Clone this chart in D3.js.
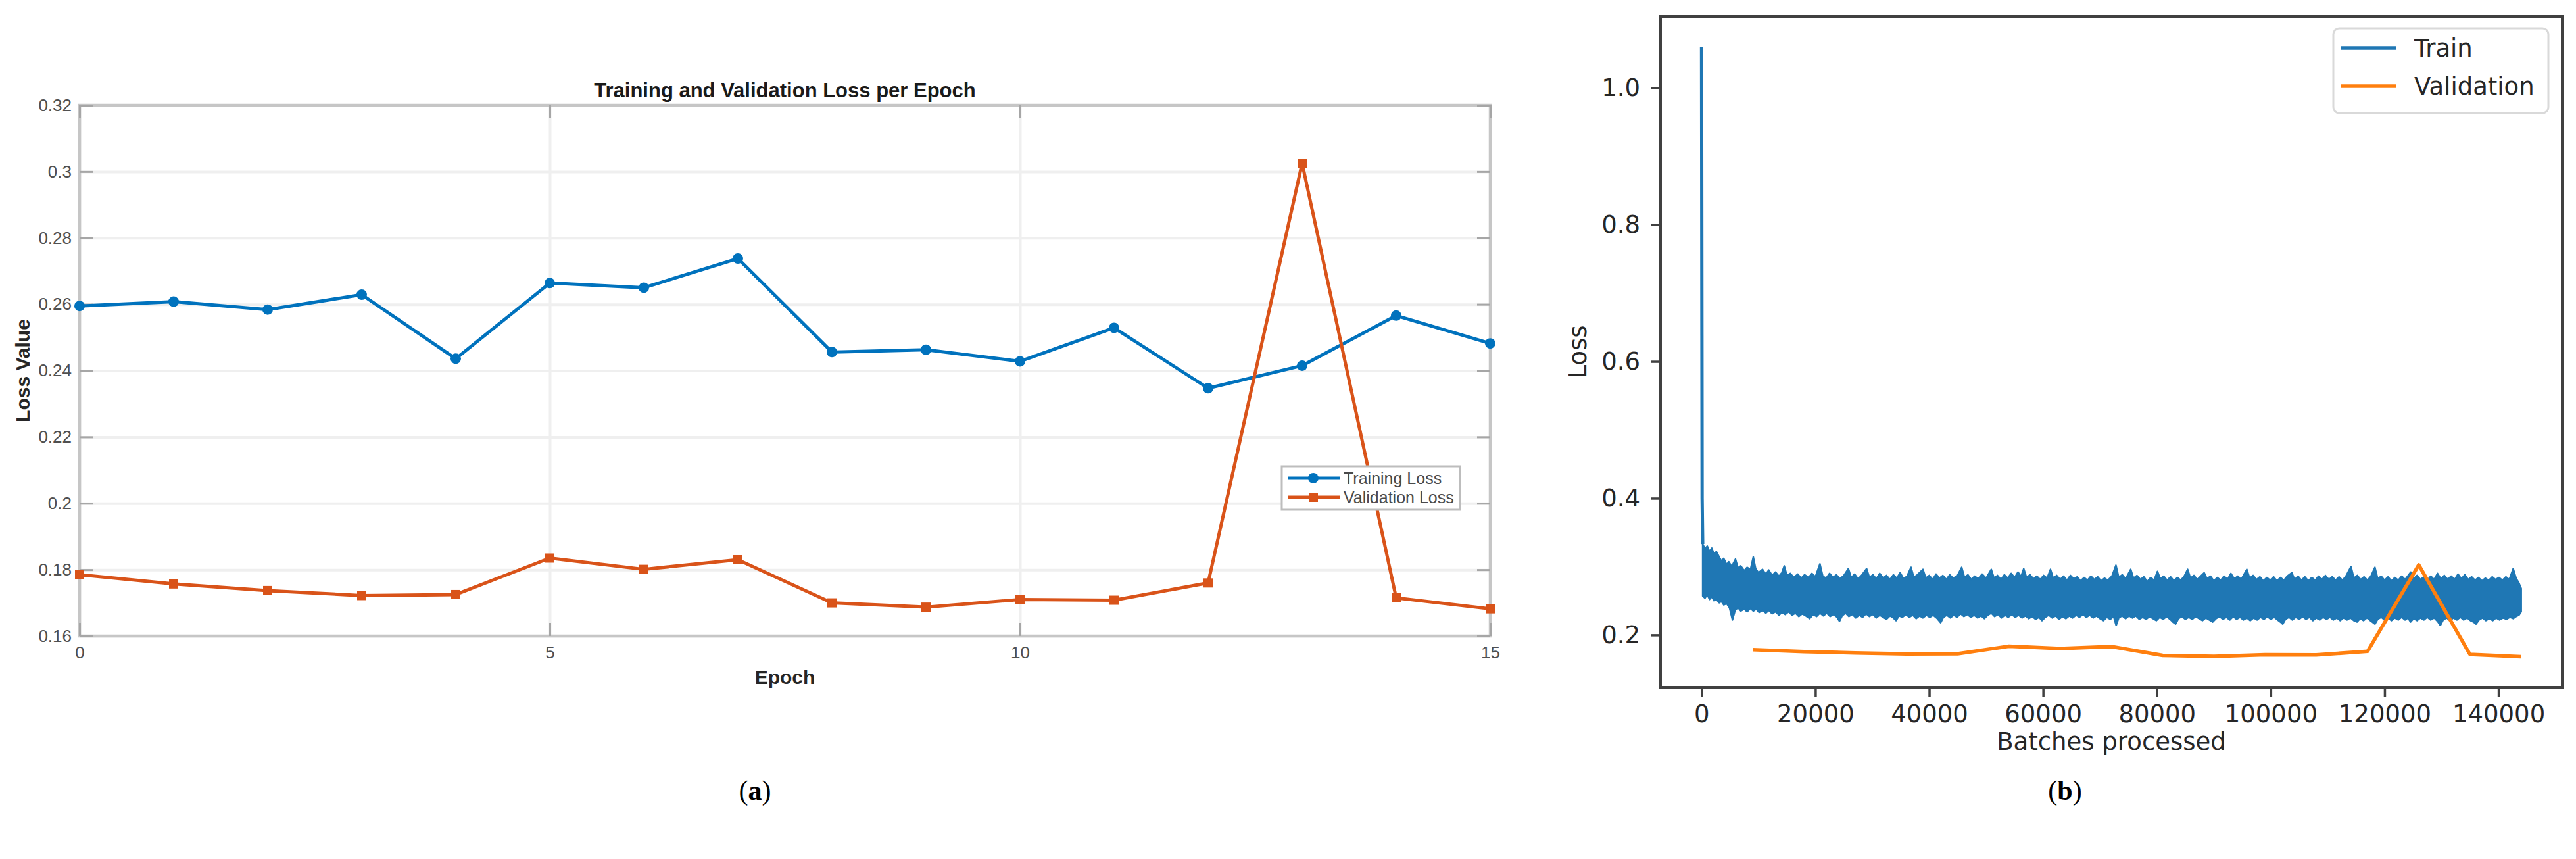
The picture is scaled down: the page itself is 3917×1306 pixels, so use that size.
<!DOCTYPE html>
<html><head><meta charset="utf-8">
<script src="https://cdn.jsdelivr.net/npm/d3@7"></script>
<style>html,body{margin:0;padding:0;background:#fff;} svg{display:block}</style>
</head><body>
<svg id="chart" width="3917" height="1306"></svg>
<script>
// ---------- Panel (a) data ----------
const epochs = [0,1,2,3,4,5,6,7,8,9,10,11,12,13,14,15];
const trainLossA = [0.2595,0.2608,0.2584,0.2629,0.2436,0.2664,0.2650,0.2738,0.2456,0.2463,0.2428,0.2529,0.2347,0.2415,0.2566,0.2482];
const valLossA   = [0.1785,0.1757,0.1737,0.1722,0.1725,0.1835,0.1801,0.1830,0.1700,0.1687,0.1710,0.1708,0.1760,0.3025,0.1715,0.1682];
const xTicksA = [0,5,10,15];
const xTickLabelsA = ["0","5","10","15"];
const yTicksA = [0.16,0.18,0.20,0.22,0.24,0.26,0.28,0.30,0.32];
const yTickLabelsA = ["0.16","0.18","0.2","0.22","0.24","0.26","0.28","0.3","0.32"];
const seriesNamesA = ["Training Loss","Validation Loss"];

// ---------- Panel (b) data ----------
const valBatches = [9000,18000,27000,36000,45000,54000,63000,72000,81000,90000,99000,108000,117000,126000,135000,144000];
const valLossB = [0.1785,0.1757,0.1737,0.1722,0.1725,0.1835,0.1801,0.1830,0.1700,0.1687,0.1710,0.1708,0.1760,0.3025,0.1715,0.1682];
const trainStartBatches = [0,100,200];
const trainStartLoss = [1.06,0.40,0.333];
// upper envelope of the noisy train-loss band
const trainHiBatches = [200,600,1000,1400,1800,2200,2600,3100,3500,3900,4400,4800,5300,5960,6400,6900,7500,8000,8600,9090,9500,10000,10700,11300,11800,12400,13000,13600,14100,14530,15000,15600,16200,16900,17500,18100,18800,19400,20000,20800,21300,21900,22500,23100,23700,24300,25000,25800,26300,26900,27500,28100,29000,29500,30100,30700,31300,31900,32500,33100,33700,34300,34900,35500,36100,36800,37300,37900,38900,39400,40000,40600,41200,41800,42400,43000,43600,44200,44900,45700,46200,46800,47400,48000,48600,49300,50000,50900,51400,52000,52600,53200,53800,54400,55000,55600,56100,56600,57100,57700,58300,58900,59500,60100,60700,61300,61800,62400,63000,63600,64200,64800,65400,66000,66600,67200,67800,68400,69000,69600,70200,70800,71400,72100,72800,73300,73900,74500,75400,75900,76500,77100,77700,78300,78900,79500,80100,80600,81200,81800,82400,83000,83600,84200,84800,85400,85900,86500,87100,87700,88300,88800,89400,90000,90600,91200,91800,92400,93000,93600,94200,94800,95800,96300,96900,97500,98100,98700,99300,99900,100500,101100,101700,102300,102900,103700,104200,104800,105400,106000,106600,107200,107800,108400,109000,109600,110200,110800,111400,112000,112600,113200,114100,114600,115200,115800,116400,117000,117600,118300,118800,119400,120000,120600,121200,121800,122400,123000,123600,124600,125100,125700,126300,126900,127500,128100,128700,129300,129900,130500,131100,131700,132300,132900,133500,134100,134700,135300,135900,136500,137100,137700,138300,138900,139500,140100,140700,141300,141900,142600,143100,143600,144000];
const trainHiLoss = [0.333,0.326,0.330,0.322,0.327,0.318,0.322,0.314,0.308,0.312,0.303,0.307,0.300,0.311,0.298,0.301,0.294,0.299,0.296,0.314,0.297,0.291,0.296,0.289,0.295,0.287,0.292,0.286,0.291,0.301,0.287,0.290,0.284,0.289,0.283,0.288,0.284,0.290,0.285,0.304,0.286,0.283,0.290,0.284,0.288,0.282,0.287,0.297,0.284,0.289,0.282,0.287,0.297,0.284,0.288,0.282,0.290,0.283,0.287,0.281,0.288,0.283,0.291,0.282,0.286,0.299,0.284,0.288,0.296,0.283,0.287,0.281,0.289,0.283,0.287,0.281,0.288,0.283,0.286,0.299,0.284,0.288,0.281,0.286,0.282,0.289,0.283,0.296,0.283,0.287,0.281,0.288,0.283,0.290,0.284,0.292,0.285,0.297,0.284,0.288,0.282,0.286,0.281,0.287,0.283,0.296,0.283,0.287,0.281,0.286,0.280,0.287,0.282,0.285,0.279,0.284,0.280,0.286,0.281,0.285,0.279,0.283,0.280,0.286,0.302,0.284,0.288,0.282,0.296,0.283,0.287,0.281,0.285,0.278,0.284,0.280,0.293,0.282,0.286,0.280,0.285,0.279,0.284,0.280,0.286,0.296,0.283,0.287,0.281,0.286,0.291,0.282,0.286,0.279,0.284,0.280,0.286,0.281,0.290,0.282,0.286,0.281,0.296,0.283,0.287,0.281,0.285,0.279,0.284,0.280,0.285,0.279,0.284,0.280,0.286,0.291,0.281,0.286,0.280,0.285,0.279,0.284,0.280,0.286,0.281,0.287,0.281,0.285,0.280,0.285,0.280,0.286,0.300,0.283,0.287,0.281,0.285,0.280,0.286,0.299,0.282,0.286,0.280,0.285,0.279,0.284,0.280,0.286,0.281,0.292,0.282,0.287,0.281,0.285,0.280,0.286,0.281,0.290,0.282,0.287,0.281,0.286,0.281,0.289,0.282,0.288,0.281,0.285,0.280,0.284,0.279,0.283,0.280,0.285,0.281,0.284,0.280,0.285,0.281,0.297,0.283,0.276,0.268];
// lower envelope of the noisy train-loss band
const trainLoBatches = [200,600,1000,1400,1800,2200,2600,3100,3500,3900,4400,4900,5430,5900,6400,6900,7500,8000,8600,9100,9600,10100,10700,11300,11800,12400,13000,13600,14100,14700,15300,15900,16500,17100,17700,18300,19000,19600,20200,20800,21400,22000,22600,23200,23800,24240,24700,25300,25900,26500,27100,27700,28300,28900,29500,30100,30700,31300,31900,32500,33100,33700,34170,34700,35300,35900,36500,37100,37700,38300,38900,39500,40100,40700,41400,42010,42500,43100,43700,44300,44900,45500,46100,46700,47300,47900,48500,49100,49700,50300,50900,51500,52100,52700,53300,53900,54500,55100,55700,56300,56900,57500,58100,58700,59300,59800,60400,61000,61600,62200,62800,63400,64000,64600,65200,65800,66400,67000,67600,68200,68800,69400,70000,70600,71200,71800,72400,72840,73300,73900,74500,75100,75700,76300,76900,77500,78100,78700,79300,79900,80500,81100,81700,82300,82800,83290,83800,84400,85000,85600,86200,86800,87400,88000,88600,89200,89800,90400,91000,91600,92200,92800,93400,94000,94600,95200,95800,96400,97000,97600,98200,98800,99400,100000,100600,101200,101700,102100,102600,103200,103800,104400,105000,105600,106200,106800,107400,108000,108600,109200,109800,110400,111000,111600,112200,112800,113400,114000,114600,115160,115700,116300,116900,117500,118300,118800,119400,120000,120600,121200,121800,122400,123000,123600,124100,124560,125100,125700,126300,126900,127500,128100,128700,129300,129790,130300,130900,131500,132100,132700,133300,133900,134500,135100,135600,136060,136600,137200,137800,138400,139000,139600,140200,140800,141400,142000,142600,143100,143600,144000];
const trainLoLoss = [0.257,0.254,0.259,0.252,0.256,0.250,0.252,0.247,0.249,0.244,0.246,0.240,0.222,0.236,0.240,0.235,0.238,0.234,0.239,0.235,0.238,0.233,0.236,0.232,0.236,0.231,0.234,0.229,0.233,0.230,0.234,0.229,0.232,0.227,0.231,0.228,0.224,0.230,0.227,0.232,0.228,0.232,0.227,0.230,0.226,0.220,0.228,0.232,0.227,0.230,0.225,0.229,0.226,0.231,0.227,0.230,0.225,0.229,0.226,0.223,0.228,0.225,0.221,0.228,0.226,0.230,0.226,0.229,0.224,0.228,0.225,0.229,0.226,0.229,0.224,0.218,0.226,0.229,0.225,0.229,0.226,0.231,0.227,0.230,0.226,0.229,0.225,0.228,0.224,0.229,0.232,0.227,0.230,0.225,0.229,0.226,0.230,0.226,0.229,0.225,0.228,0.224,0.227,0.223,0.226,0.221,0.226,0.229,0.225,0.228,0.223,0.227,0.224,0.228,0.225,0.229,0.226,0.230,0.226,0.229,0.225,0.228,0.224,0.221,0.226,0.223,0.227,0.214,0.225,0.228,0.224,0.228,0.225,0.228,0.223,0.226,0.223,0.227,0.224,0.221,0.226,0.223,0.227,0.223,0.219,0.216,0.224,0.227,0.223,0.226,0.223,0.227,0.224,0.221,0.225,0.222,0.219,0.224,0.227,0.223,0.226,0.222,0.227,0.223,0.226,0.222,0.225,0.221,0.225,0.222,0.226,0.223,0.227,0.223,0.226,0.222,0.219,0.216,0.223,0.226,0.222,0.226,0.223,0.227,0.223,0.226,0.221,0.225,0.222,0.226,0.223,0.226,0.222,0.225,0.221,0.225,0.222,0.225,0.221,0.219,0.224,0.221,0.225,0.221,0.216,0.223,0.226,0.222,0.225,0.221,0.225,0.222,0.226,0.222,0.225,0.219,0.224,0.221,0.225,0.222,0.226,0.222,0.225,0.220,0.214,0.222,0.225,0.221,0.225,0.222,0.226,0.222,0.225,0.221,0.219,0.216,0.222,0.225,0.221,0.224,0.221,0.225,0.222,0.225,0.223,0.226,0.224,0.227,0.229,0.234];
const xTicksB = [0,20000,40000,60000,80000,100000,120000,140000];
const yTicksB = [0.2,0.4,0.6,0.8,1.0];
const seriesNamesB = ["Train","Validation"];

const svg = d3.select('#chart');
svg.append('rect').attr('width',3917).attr('height',1306).attr('fill','#fff');

// ================= Panel (a) =================
const A = {l:121, r:2266, t:160, b:967};
const xA = d3.scaleLinear().domain([0,15]).range([A.l,A.r]);
const yA = d3.scaleLinear().domain([0.16,0.32]).range([A.b,A.t]);
const blueA = '#0072BD', orangeA = '#D95319';
const fontA = 'Liberation Sans, Arial, Helvetica, sans-serif';
const gA = svg.append('g');

// grid
gA.append('g').attr('transform',`translate(0,${A.b})`)
  .call(d3.axisBottom(xA).tickValues(xTicksA).tickSize(-(A.b-A.t)).tickFormat(''))
  .call(g=>{g.select('.domain').remove(); g.selectAll('line').attr('stroke','#efefef').attr('stroke-width',4);});
gA.append('g').attr('transform',`translate(${A.l},0)`)
  .call(d3.axisLeft(yA).tickValues(yTicksA).tickSize(-(A.r-A.l)).tickFormat(''))
  .call(g=>{g.select('.domain').remove(); g.selectAll('line').attr('stroke','#efefef').attr('stroke-width',4);});

// box
gA.append('rect').attr('x',A.l).attr('y',A.t).attr('width',A.r-A.l).attr('height',A.b-A.t)
  .attr('fill','none').attr('stroke','#c6c6c6').attr('stroke-width',4.5);

function styleTicksA(g){
  g.select('.domain').remove();
  g.selectAll('line').attr('stroke','#a6a6a6').attr('stroke-width',3);
  g.selectAll('text').attr('fill','#505050').attr('font-family',fontA).attr('font-size',26);
}
gA.append('g').attr('transform',`translate(${A.l},0)`)
  .call(d3.axisLeft(yA).tickValues(yTicksA).tickSize(-20).tickPadding(12).tickFormat((d,i)=>yTickLabelsA[i]))
  .call(styleTicksA);
gA.append('g').attr('transform',`translate(${A.r},0)`)
  .call(d3.axisRight(yA).tickValues(yTicksA).tickSize(-20).tickFormat(''))
  .call(styleTicksA);
gA.append('g').attr('transform',`translate(0,${A.b})`)
  .call(d3.axisBottom(xA).tickValues(xTicksA).tickSize(-20).tickPadding(16).tickFormat((d,i)=>xTickLabelsA[i]))
  .call(styleTicksA);
gA.append('g').attr('transform',`translate(0,${A.t})`)
  .call(d3.axisTop(xA).tickValues(xTicksA).tickSize(-20).tickFormat(''))
  .call(styleTicksA);

// lines
const lineA = d3.line().x(d=>xA(d[0])).y(d=>yA(d[1]));
const trainPtsA = epochs.map((e,i)=>[e,trainLossA[i]]);
const valPtsA = epochs.map((e,i)=>[e,valLossA[i]]);
gA.append('path').attr('d',lineA(trainPtsA)).attr('fill','none').attr('stroke',blueA).attr('stroke-width',5).attr('stroke-linejoin','round');
gA.append('path').attr('d',lineA(valPtsA)).attr('fill','none').attr('stroke',orangeA).attr('stroke-width',5).attr('stroke-linejoin','round');
gA.selectAll('circle.tm').data(trainPtsA).enter().append('circle')
  .attr('cx',d=>xA(d[0])).attr('cy',d=>yA(d[1])).attr('r',8).attr('fill',blueA);
gA.selectAll('rect.vm').data(valPtsA).enter().append('rect')
  .attr('x',d=>xA(d[0])-7).attr('y',d=>yA(d[1])-7).attr('width',14).attr('height',14).attr('fill',orangeA);

// title & labels
gA.append('text').attr('x',(A.l+A.r)/2).attr('y',148).attr('text-anchor','middle')
  .attr('font-family',fontA).attr('font-weight','bold').attr('font-size',31).attr('fill','#1a1a1a')
  .text('Training and Validation Loss per Epoch');
gA.append('text').attr('x',(A.l+A.r)/2).attr('y',1040).attr('text-anchor','middle')
  .attr('font-family',fontA).attr('font-weight','bold').attr('font-size',30).attr('fill','#262626')
  .text('Epoch');
gA.append('text').attr('transform',`translate(45,${(A.t+A.b)/2}) rotate(-90)`).attr('text-anchor','middle')
  .attr('font-family',fontA).attr('font-weight','bold').attr('font-size',30).attr('fill','#262626')
  .text('Loss Value');

// legend (a)
const legA = gA.append('g');
legA.append('rect').attr('x',1949).attr('y',709).attr('width',271).attr('height',66)
  .attr('fill','#fff').attr('stroke','#bdbdbd').attr('stroke-width',3);
[[727,blueA,'c'],[756,orangeA,'s']].forEach((L,i)=>{
  legA.append('line').attr('x1',1958).attr('x2',2037).attr('y1',L[0]).attr('y2',L[0]).attr('stroke',L[1]).attr('stroke-width',5);
  if(L[2]==='c') legA.append('circle').attr('cx',1997).attr('cy',L[0]).attr('r',8).attr('fill',L[1]);
  else legA.append('rect').attr('x',1990).attr('y',L[0]-7).attr('width',14).attr('height',14).attr('fill',L[1]);
  legA.append('text').attr('x',2043).attr('y',L[0]).attr('dominant-baseline','central')
    .attr('font-family',fontA).attr('font-size',25).attr('fill','#4a4a4a').text(seriesNamesA[i]);
});

// ================= Panel (b) =================
const B = {l:2525, r:3896, t:25, b:1045};
const xB = d3.scaleLinear().domain([-7200,151200]).range([B.l,B.r]);
const yB = d3.scaleLinear().domain([0.1234,1.1046]).range([B.b,B.t]);
const blueB = '#1f77b4', orangeB = '#ff7f0e';
const fontB = 'DejaVu Sans, Verdana, sans-serif';
const gB = svg.append('g');
const lineB = d3.line().x(d=>xB(d[0])).y(d=>yB(d[1]));

// train band: upper envelope left->right, lower envelope right->left
const hiPts = trainHiBatches.map((b,i)=>[b,trainHiLoss[i]]);
const loPts = trainLoBatches.map((b,i)=>[b,trainLoLoss[i]]).reverse();
gB.append('path').attr('d',lineB(hiPts.concat(loPts))+'Z')
  .attr('fill',blueB).attr('stroke',blueB).attr('stroke-width',2.5).attr('stroke-linejoin','round');
gB.append('path').attr('d',lineB(trainStartBatches.map((b,i)=>[b,trainStartLoss[i]])))
  .attr('fill','none').attr('stroke',blueB).attr('stroke-width',5);
// validation
gB.append('path').attr('d',lineB(valBatches.map((b,i)=>[b,valLossB[i]])))
  .attr('fill','none').attr('stroke',orangeB).attr('stroke-width',5.5).attr('stroke-linejoin','round');

// spines
gB.append('rect').attr('x',B.l).attr('y',B.t).attr('width',B.r-B.l).attr('height',B.b-B.t)
  .attr('fill','none').attr('stroke','#404040').attr('stroke-width',4);
function styleTicksB(g){
  g.select('.domain').remove();
  g.selectAll('line').attr('stroke','#404040').attr('stroke-width',3.5);
  g.selectAll('text').attr('fill','#262626').attr('font-family',fontB).attr('font-size',37);
}
gB.append('g').attr('transform',`translate(${B.l},0)`)
  .call(d3.axisLeft(yB).tickValues(yTicksB).tickSize(14).tickPadding(17).tickFormat(d3.format('.1f')))
  .call(styleTicksB);
gB.append('g').attr('transform',`translate(0,${B.b})`)
  .call(d3.axisBottom(xB).tickValues(xTicksB).tickSize(14).tickPadding(13).tickFormat(d3.format('d')))
  .call(styleTicksB);

gB.append('text').attr('x',(B.l+B.r)/2).attr('y',1140).attr('text-anchor','middle')
  .attr('font-family',fontB).attr('font-size',37).attr('fill','#262626').text('Batches processed');
gB.append('text').attr('transform',`translate(2412,${(B.t+B.b)/2}) rotate(-90)`).attr('text-anchor','middle')
  .attr('font-family',fontB).attr('font-size',37).attr('fill','#262626').text('Loss');

// legend (b)
const legB = gB.append('g');
legB.append('rect').attr('x',3548).attr('y',43).attr('width',327).attr('height',129).attr('rx',9)
  .attr('fill','#fff').attr('fill-opacity',0.8).attr('stroke','#d9d9d9').attr('stroke-width',3);
[[73,blueB],[131,orangeB]].forEach((L,i)=>{
  legB.append('line').attr('x1',3560).attr('x2',3643).attr('y1',L[0]).attr('y2',L[0]).attr('stroke',L[1]).attr('stroke-width',5.5);
  legB.append('text').attr('x',3671).attr('y',L[0]).attr('dominant-baseline','central')
    .attr('font-family',fontB).attr('font-size',37).attr('fill','#262626').text(seriesNamesB[i]);
});

// captions
const cap = [["(","a",")",1148],["(","b",")",3140]];
cap.forEach(c=>{
  const t = svg.append('text').attr('x',c[3]).attr('y',1216).attr('text-anchor','middle')
    .attr('font-family','Liberation Serif, Times New Roman, serif').attr('font-size',42).attr('fill','#000');
  t.append('tspan').text(c[0]);
  t.append('tspan').attr('font-weight','bold').text(c[1]);
  t.append('tspan').text(c[2]);
});
</script></body></html>
